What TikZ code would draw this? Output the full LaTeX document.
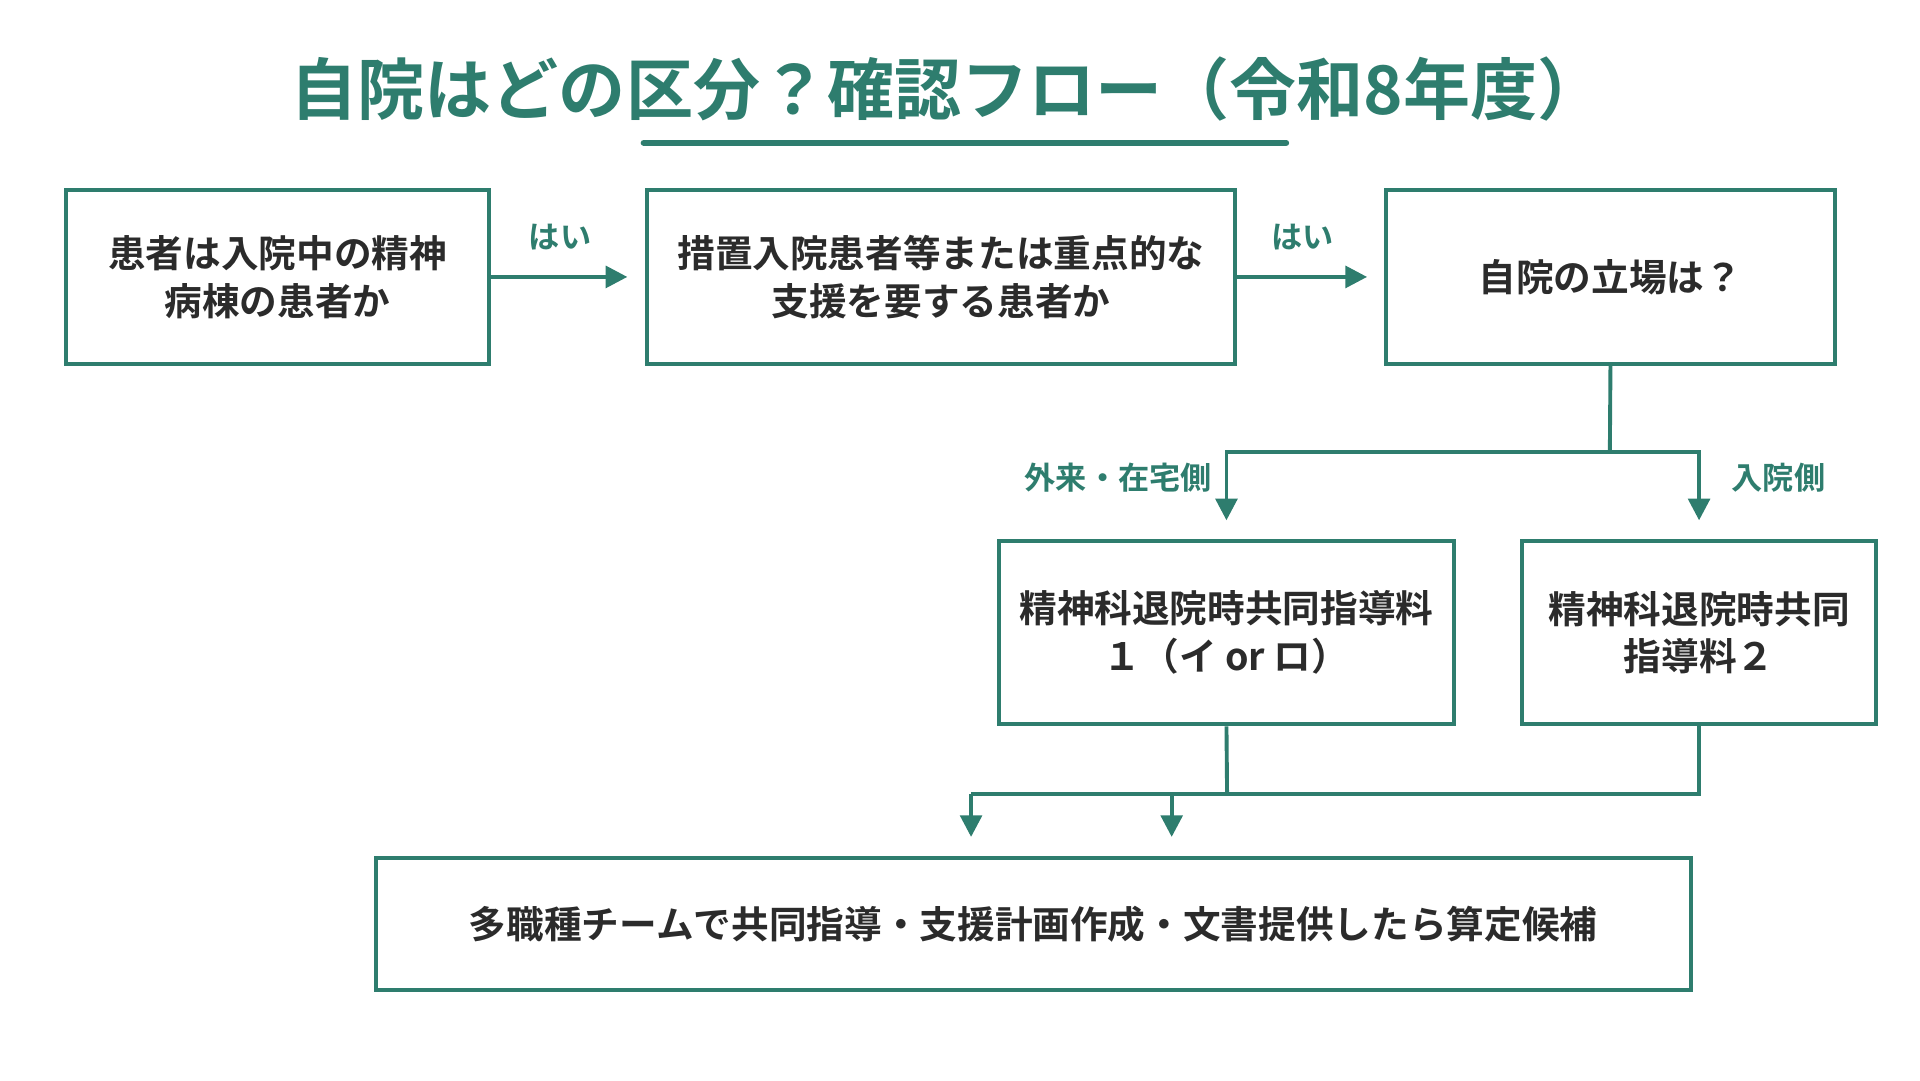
\documentclass[tikz,border=0pt]{standalone}
\usepackage{fontspec}
\setmainfont{Noto Sans CJK JP}[BoldFont={* Bold}]
\usetikzlibrary{arrows.meta}
\definecolor{teal}{HTML}{2E7D6E}
\definecolor{ink}{HTML}{2B2B2B}
\tikzset{
  box/.style={draw=teal, line width=0.9pt, minimum width=#1, align=center, inner sep=0pt, text=ink, font=\bfseries\fontsize{8.7}{11}\selectfont},
  link/.style={draw=teal, line width=0.9pt},
  arr/.style={link, -{Triangle[length=5pt,width=5pt]}},
  lbl/.style={text=teal, font=\bfseries\fontsize{7.2}{8}\selectfont}
}
\begin{document}
\begin{tikzpicture}[x=0.01cm,y=-0.01cm]
\useasboundingbox (0,0) rectangle (1560,878);
\node[text=teal, font=\bfseries\fontsize{15.5}{16}\selectfont] (title) at (770,72) {自院はどの区分？確認フロー（令和8年度）};
\path[draw=teal, line width=1.4pt, line cap=round] (523,116) -- (1045,116);
% top row
\node[box=3.44cm, minimum height=1.41cm] (patient) at (225.5,225) {患者は入院中の精神\\病棟の患者か};
\node[box=4.78cm, minimum height=1.41cm] (support) at (764.5,225) {措置入院患者等または重点的な\\支援を要する患者か};
\node[box=3.64cm, minimum height=1.41cm] (role) at (1308.5,225) {自院の立場は？};
\path[arr] (patient.east) -- ([xshift=-4pt]support.west);
\path[arr] (support.east) -- ([xshift=-4pt]role.west);
\node[lbl] (yes1) at (455,193) {はい};
\node[lbl] (yes2) at (1058,193) {はい};
% branch
\node[box=3.70cm, minimum height=1.49cm] (fee1) at (996.5,514) {精神科退院時共同指導料\\１（イ or ロ）};
\node[box=2.88cm, minimum height=1.49cm] (fee2) at (1380.5,514) {精神科退院時共同\\指導料２};
\coordinate (split) at (1308,367);
\path[link] (role.south) -- (split);
\path[arr] (split) -| ([yshift=4.3pt]fee1.north);
\path[arr] (split) -| ([yshift=4.3pt]fee2.north);
\node[lbl, anchor=east] (outside) at (997,388) {外来・在宅側};
\node[lbl] (inside) at (1445,388) {入院側};
% bottom
\node[box=10.68cm, minimum height=1.07cm] (team) at (839.5,751) {多職種チームで共同指導・支援計画作成・文書提供したら算定候補};
\coordinate (merge) at (997,645);
\coordinate (left) at (789,645);
\coordinate (mid) at (952,645);
\path[link] (fee1.south) -- (merge);
\path[link] (fee2.south) |- (merge) -- (left);
\path[arr] (left) -- ++(0,35);
\path[arr] (mid) -- ++(0,35);
\end{tikzpicture}
\end{document}
